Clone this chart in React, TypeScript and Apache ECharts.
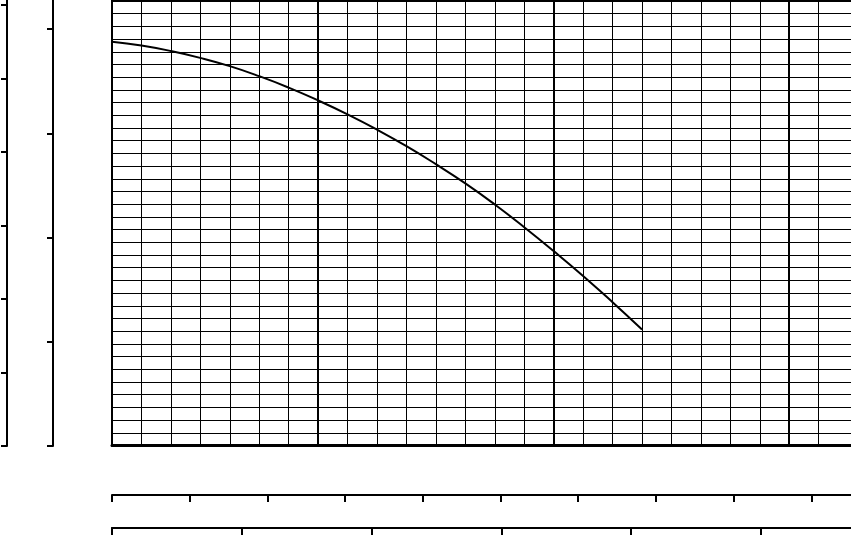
import React, { useEffect, useRef } from "react";
import * as echarts from "echarts";

// Pump-curve style chart on graph paper (no texts in the reference)
const flowX = [0, 1, 2, 3, 4, 5, 6, 7, 8, 9, 10, 11, 12, 13, 14, 15, 16, 17, 18];
const headY = [31.8, 31.49, 31.06, 30.52, 29.87, 29.08, 28.18, 27.17, 26.07, 24.87, 23.57, 22.15, 20.64, 18.98, 17.19, 15.31, 13.35, 11.28, 9.13];
const majorX = [7, 15, 23];

export default function App() {
  const ref = useRef<HTMLDivElement>(null);
  useEffect(() => {
    if (!ref.current) return;
    const chart = echarts.init(ref.current, undefined, { renderer: "svg" });
    const black = "#000";
    const mainXMax = 25.2;
    const xLineColors = Array.from({ length: 27 }, (_, i) => (i >= 25 ? "rgba(0,0,0,0)" : black));
    const hiddenAxis = (gridIndex: number) => ({
      type: "value" as const,
      gridIndex,
      show: false,
      min: 0,
      max: 1,
    });
    const decoAxisBase = {
      type: "value" as const,
      min: 0,
      interval: 1,
      axisLine: { show: true, lineStyle: { color: black, width: 2 } },
      axisTick: { show: true, length: 6, lineStyle: { color: black, width: 2 } },
      axisLabel: { show: false },
      splitLine: { show: false },
    };
    const gridBase = { outerBoundsMode: "none", containLabel: false };
    chart.setOption({
      animation: false,
      backgroundColor: "#fff",
      grid: [
        { ...gridBase, left: 112, top: 1, width: 742, height: 444.5, show: true, borderColor: black, borderWidth: 2, backgroundColor: "transparent" },
        { ...gridBase, left: 7, top: -10, width: 1, height: 456 },
        { ...gridBase, left: 53, top: -10, width: 1, height: 456 },
        { ...gridBase, left: 112, top: 494, width: 749, height: 1 },
        { ...gridBase, left: 112, top: 526.3, width: 749, height: 1 },
      ],
      xAxis: [
        {
          type: "value",
          gridIndex: 0,
          min: 0,
          max: mainXMax,
          interval: 1,
          axisLine: { show: true, lineStyle: { color: black, width: 3 } },
          axisTick: { show: false },
          axisLabel: { show: false },
          splitLine: { show: true, lineStyle: { color: xLineColors, width: 1 } },
        },
        hiddenAxis(1),
        hiddenAxis(2),
        { ...decoAxisBase, gridIndex: 3, position: "bottom", max: 749 / 77.7, axisTick: { ...decoAxisBase.axisTick, length: 7 } },
        { ...decoAxisBase, gridIndex: 4, position: "bottom", max: 749 / 129.8, axisTick: { ...decoAxisBase.axisTick, length: 9 } },
      ],
      yAxis: [
        {
          type: "value",
          gridIndex: 0,
          min: 0,
          max: 35,
          interval: 1,
          axisLine: { show: true, lineStyle: { color: black, width: 2 } },
          axisTick: { show: false },
          axisLabel: { show: false },
          splitLine: { show: true, lineStyle: { color: black, width: 1 } },
        },
        { ...decoAxisBase, gridIndex: 1, position: "left", max: 456 / 73.5 },
        { ...decoAxisBase, gridIndex: 2, position: "left", max: 456 / 104.25 },
        hiddenAxis(3),
        hiddenAxis(4),
      ],
      series: [
        {
          type: "line",
          xAxisIndex: 0,
          yAxisIndex: 0,
          data: flowX.map((x, i) => [x, headY[i]]),
          symbol: "none",
          showSymbol: false,
          smooth: true,
          silent: true,
          lineStyle: { color: black, width: 2 },
          emphasis: { disabled: true },
          markLine: {
            silent: true,
            symbol: ["none", "none"],
            label: { show: false },
            lineStyle: { color: black, width: 2, type: "solid" },
            emphasis: { disabled: true },
            data: majorX.map((x) => ({ xAxis: x })),
          },
          z: 5,
        },
      ],
    });
    return () => chart.dispose();
  }, []);
  return (
    <div
      ref={ref}
      style={{ position: "fixed", left: 0, top: 0, width: 851, height: 535, background: "#fff" }}
    />
  );
}
